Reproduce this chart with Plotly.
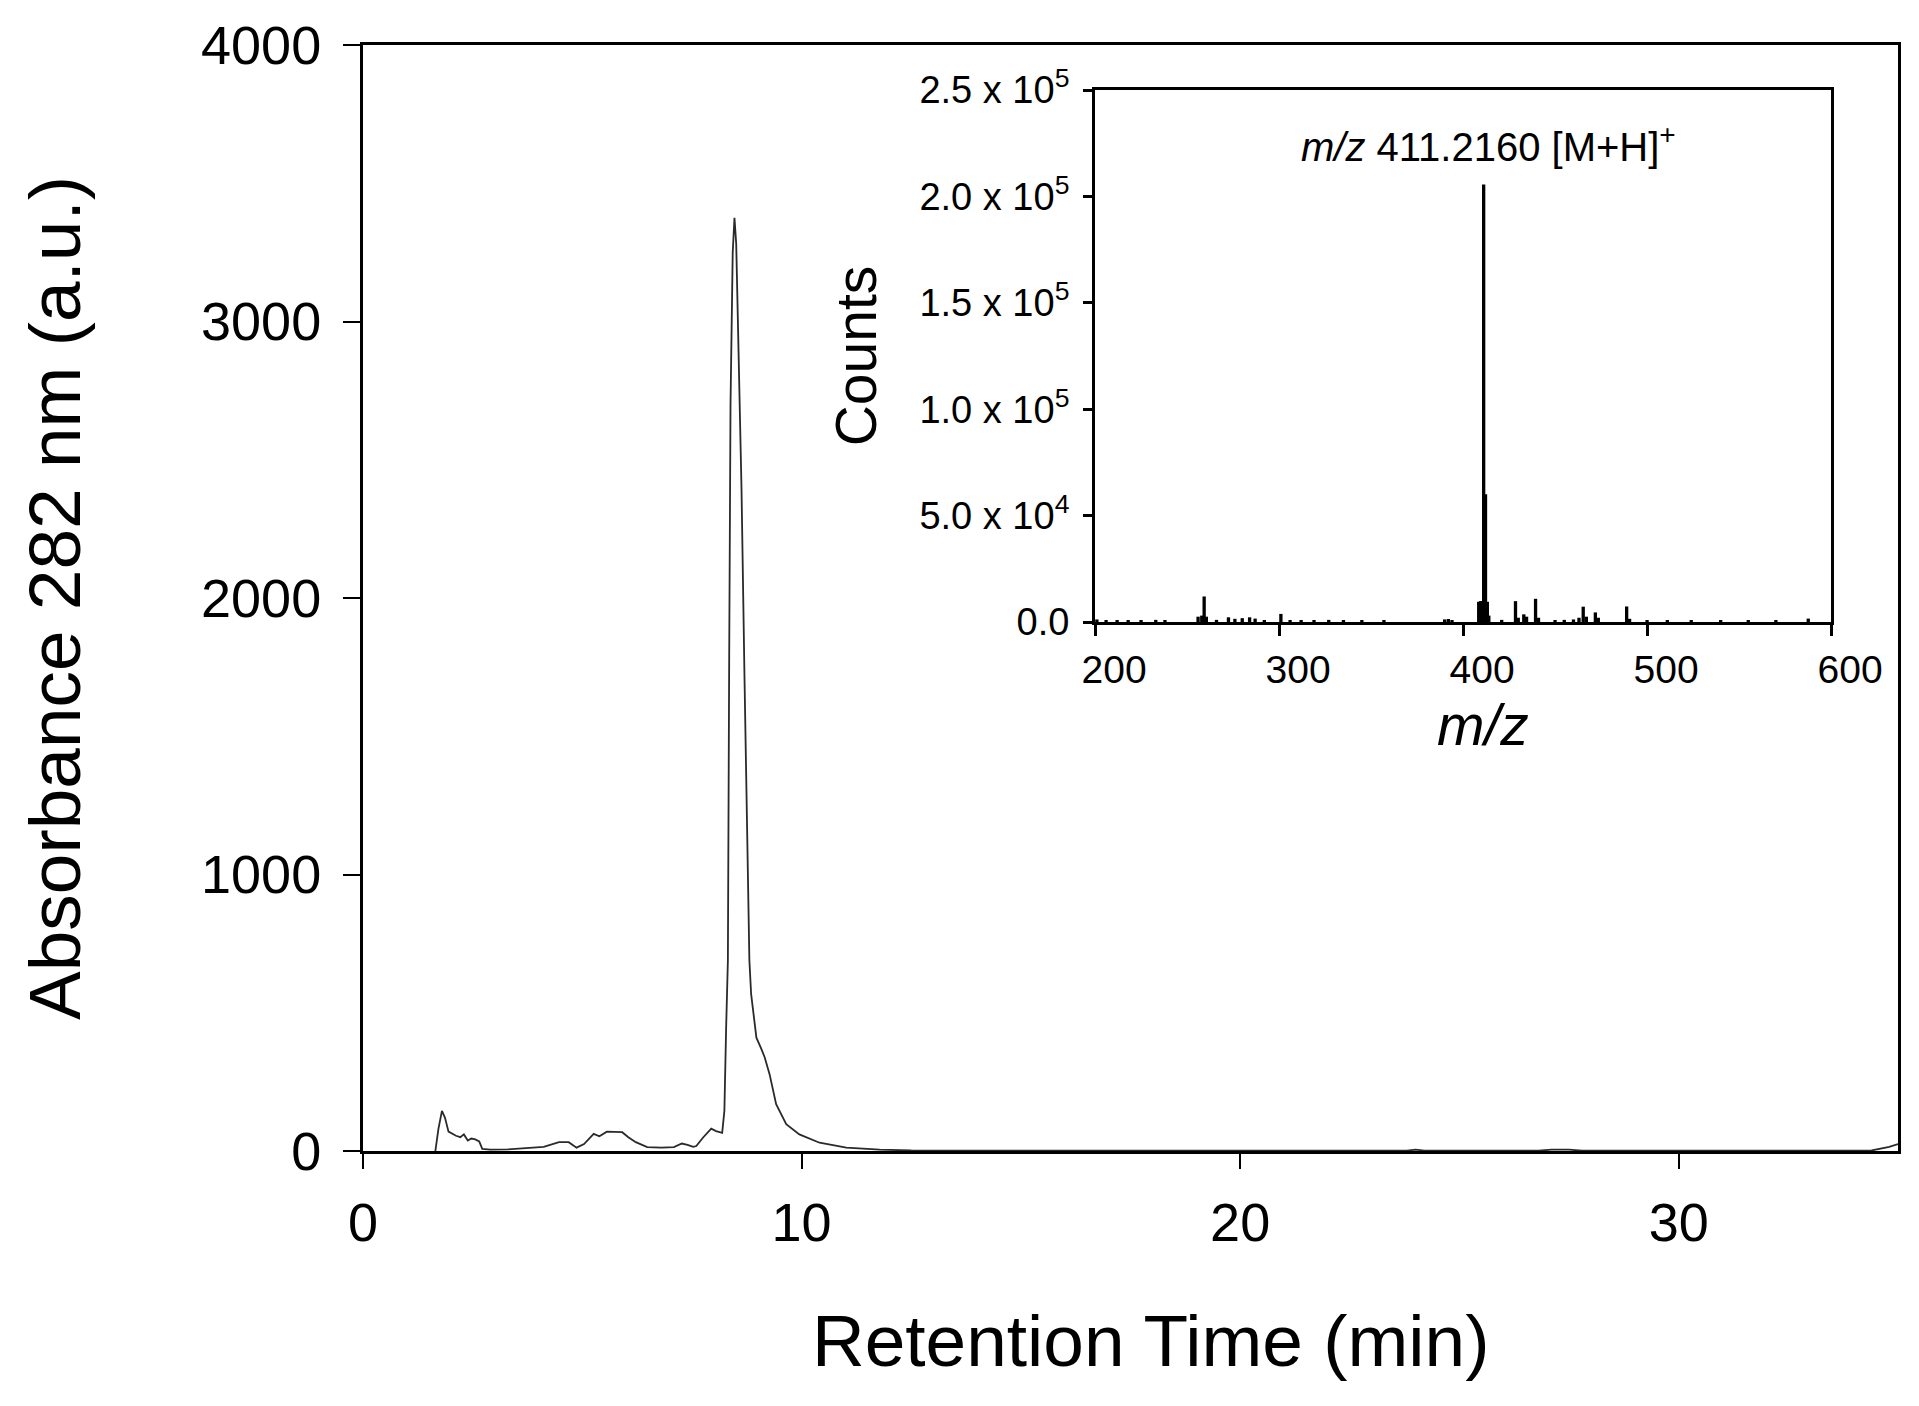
import plotly.graph_objects as go

# HPLC chromatogram (absorbance at 282 nm)
ret_time = [1.65, 1.72, 1.80, 1.87, 1.95, 2.05, 2.12, 2.22, 2.30, 2.39, 2.47, 2.56,
            2.65, 2.72, 2.9, 3.3, 3.78, 4.12, 4.47, 4.69, 4.87, 5.04, 5.26, 5.39,
            5.56, 5.75, 5.91, 6.05, 6.22, 6.48, 6.8, 7.09, 7.27, 7.40, 7.53, 7.60,
            7.75, 7.94, 8.05, 8.19, 8.24, 8.28, 8.32, 8.35, 8.38, 8.43, 8.47, 8.51,
            8.56, 8.63, 8.70, 8.77, 8.81, 8.85, 8.97, 9.08, 9.16, 9.27, 9.42, 9.65,
            9.95, 10.41, 11.02, 11.78, 12.5, 15, 20, 23.8, 24.0, 24.2, 26.8, 27.1,
            27.5, 27.8, 30, 34.4, 34.8, 35.0]
absorbance = [0, 80, 145, 120, 70, 60, 55, 50, 60, 38, 45, 42,
              35, 8, 5, 6, 10, 15, 32, 32, 12, 25, 62, 53,
              70, 70, 68, 50, 32, 14, 12, 14, 27, 22, 15, 18,
              48, 81, 72, 66, 145, 446, 690, 1800, 2700, 3250, 3375, 3280,
              2950, 2400, 1700, 1050, 690, 567, 410, 370, 338, 278, 169, 97,
              60, 30, 12, 5, 2, 1, 1, 1, 5, 1, 1, 5,
              5, 1, 1, 2, 15, 25]

# mass spectrum (inset)
mz = [201, 206, 212, 218, 225, 233, 238, 256, 258, 259.3, 260.5, 266, 272.5, 276,
      280, 284, 287, 292, 301, 306, 312, 319, 327, 335, 345, 357, 390, 392, 394,
      408.5, 409.5, 410.2, 411.2, 412.2, 413.2, 414, 421, 428.5, 430, 433, 434.5,
      439.4, 441, 450, 455, 460, 463, 465.3, 467, 471.9, 473.5, 488.9, 490.5, 500,
      511, 524, 540, 555, 570, 587.6]
counts = [1200, 800, 900, 700, 900, 1000, 700, 2500, 3000, 12000, 2500, 1000, 2200, 1500,
          1800, 2200, 1600, 800, 3800, 800, 900, 700, 1000, 800, 900, 700, 1200, 1400, 900,
          9500, 9800, 9800, 205600, 60000, 9500, 3000, 1000, 9800, 2000, 3600, 2500,
          10900, 2000, 900, 1000, 1200, 2000, 7200, 2500, 4500, 2000, 7300, 1500, 800,
          700, 800, 700, 800, 700, 1600]

ms_tickvals = [0, 50000, 100000, 150000, 200000, 250000]
ms_ticktext = ["0.0", "5.0 x 10<sup>4</sup>", "1.0 x 10<sup>5</sup>",
               "1.5 x 10<sup>5</sup>", "2.0 x 10<sup>5</sup>", "2.5 x 10<sup>5</sup>"]

FONT = "Liberation Sans, Arial, sans-serif"

fig = go.Figure()

fig.add_trace(go.Scatter(
    x=ret_time, y=absorbance, mode="lines",
    line=dict(color="#2a2a2a", width=1.8),
    showlegend=False, xaxis="x", yaxis="y"
))

fig.add_trace(go.Bar(
    x=mz, y=counts, width=1.8,
    marker=dict(color="black", line=dict(width=0)),
    showlegend=False, xaxis="x2", yaxis="y2"
))

# page body adds an 8px offset, so margins are trimmed to compensate
fig.update_layout(
    width=1919, height=1406,
    margin=dict(l=355, r=29, t=37, b=263),
    paper_bgcolor="white", plot_bgcolor="white",
    font=dict(family=FONT, color="black"),
    xaxis=dict(
        range=[0, 35], tickvals=[0, 10, 20, 30], automargin=False,
        ticks="outside", ticklen=15, tickwidth=2, tickcolor="black",
        showline=True, linewidth=3, linecolor="black", mirror=True,
        showgrid=False, zeroline=False,
        tickfont=dict(size=54), ticklabelstandoff=7,
    ),
    yaxis=dict(
        range=[0, 4000], tickvals=[0, 1000, 2000, 3000, 4000], automargin=False,
        ticks="outside", ticklen=17, tickwidth=2, tickcolor="black",
        showline=True, linewidth=3, linecolor="black", mirror=True,
        showgrid=False, zeroline=False,
        tickfont=dict(size=54), ticklabelstandoff=11,
        title=dict(text="Absorbance 282 nm (a.u.)", font=dict(size=73), standoff=97),
    ),
    xaxis2=dict(
        domain=[0.4769, 0.9564], anchor="y2", automargin=False,
        range=[200, 600], tickvals=[200, 300, 400, 500, 600],
        ticks="outside", ticklen=11, tickwidth=3, tickcolor="black",
        showline=True, linewidth=3, linecolor="black", mirror=True,
        showgrid=False, zeroline=False,
        tickfont=dict(size=39), ticklabelshift=19, ticklabelstandoff=0,
    ),
    yaxis2=dict(
        domain=[0.4783, 0.9593], anchor="x2", automargin=False,
        range=[0, 250000], tickvals=ms_tickvals, ticktext=ms_ticktext,
        ticks="outside", ticklen=9, tickwidth=3, tickcolor="black",
        showline=True, linewidth=3, linecolor="black", mirror=True,
        showgrid=False, zeroline=False,
        tickfont=dict(size=38), ticklabelstandoff=6,
        title=dict(text="Counts", font=dict(size=57), standoff=25),
    ),
    annotations=[
        dict(
            x=413.6, y=224400, xref="x2", yref="y2", showarrow=False,
            text="<i>m/z</i> 411.2160 [M+H]<sup>+</sup>",
            font=dict(size=40, color="black"),
        ),
        # inset x-axis title, offset like its tick labels
        dict(
            x=0.5, y=0, xref="x2 domain", yref="y2 domain",
            xshift=20, yshift=-103, yanchor="middle", showarrow=False,
            text="<i>m/z</i>", font=dict(size=57, color="black"),
        ),
        # main x-axis title, sits a little right of centre in the original
        dict(
            x=0.5, y=0, xref="x domain", yref="y domain",
            xshift=20, yshift=-189, yanchor="middle", showarrow=False,
            text="Retention Time (min)", font=dict(size=73, color="black"),
        ),
    ],
)

fig.write_html("out.html")
